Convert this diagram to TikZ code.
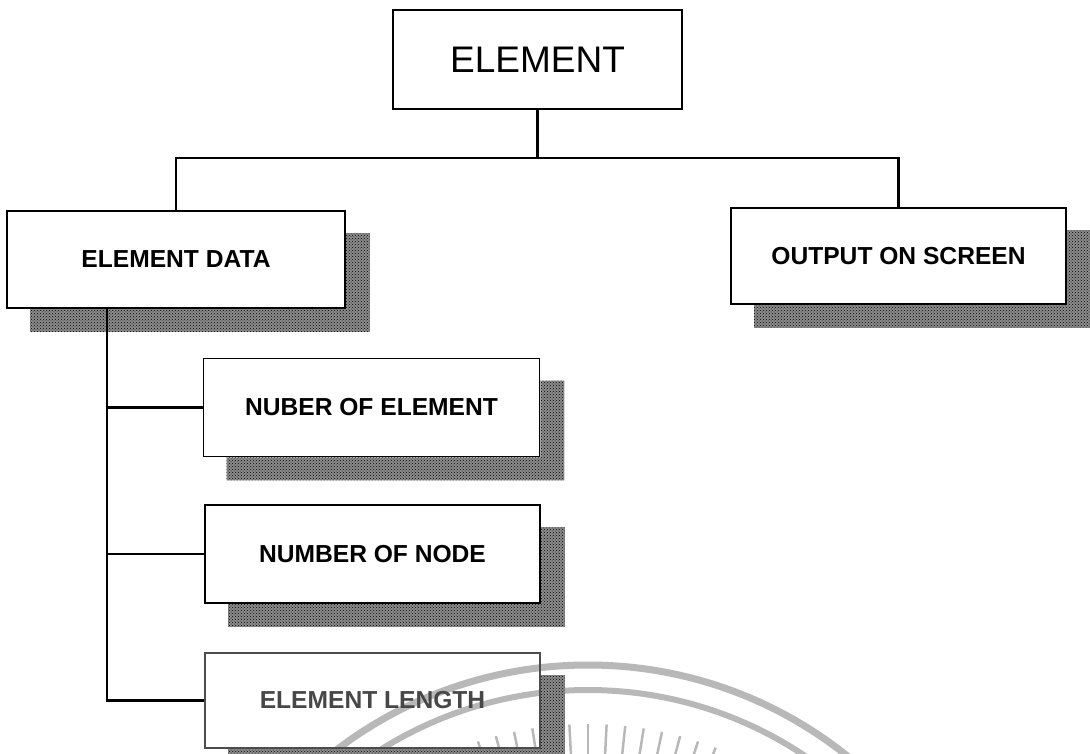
\documentclass[tikz,border=0pt]{standalone}
\usepackage{fontspec}
\setmainfont{Liberation Sans}
\usetikzlibrary{backgrounds,patterns}
\begin{document}
\begin{tikzpicture}[x=1pt,y=-1pt,
  box/.style={draw, line width=1.7pt, inner sep=0pt, font=\bfseries\fontsize{24.6}{28}\selectfont},
  conn/.style={line width=2.2pt},
  shadebox/.style={fill=black!45, postaction={pattern=crosshatch dots, pattern color=black}},
  sealline/.style={draw=black!28, line width=7pt},
  sealray/.style={draw=black!28, line width=2.5pt}]
\useasboundingbox (0,0) rectangle (1090,753);

\node[box, minimum width=289pt, minimum height=99pt, font=\fontsize{37}{40}\selectfont] (top) at (537.5,59.5) {ELEMENT};
\node[box, minimum width=338pt, minimum height=97pt] (ed) at (176,259.5) {ELEMENT DATA};
\node[box, minimum width=335pt, minimum height=96pt] (os) at (898.5,256) {OUTPUT ON SCREEN};
\node[box, minimum width=336pt, minimum height=98pt] (ne) at (371.5,407.5) {NUBER OF ELEMENT};
\node[box, minimum width=335pt, minimum height=98pt] (nn) at (372.5,554) {NUMBER OF NODE};
\node[box, draw=black!70, text=black!72, minimum width=335pt, minimum height=95pt] (el) at (372.5,700.5) {ELEMENT LENGTH};

\begin{scope}[on background layer]
  \begin{scope}
    \clip (0,0) rectangle (1090,753);
    \coordinate (sc) at (588,1080);
    \draw[sealline] (sc) circle[radius=415];
    \draw[sealline, line width=6pt] (sc) circle[radius=390];
    \foreach \a in {66,69,...,114}
      \draw[sealray] ([shift={(sc)}]-\a:300) -- ([shift={(sc)}]-\a:356);
  \end{scope}
  \foreach \n in {ed,os,ne,nn,el}
    \fill[shadebox] ([yshift=-23pt]\n.north east) -- ([shift={(24,23)}]\n.north east)
                    -- ([shift={(24,23)}]\n.south east) -- ([shift={(24,23)}]\n.south west)
                    -- ([xshift=24pt]\n.south west) -- (\n.south east) -- cycle;
\end{scope}

\coordinate (hub) at (top.south |- 0,158);
\draw[conn] (top.south) -- (hub);
\draw[conn] (ed.north) |- (hub) -| (os.north);
\coordinate (tr) at (ed.south -| 107,0);
\draw[conn] (tr) |- (el.west);
\draw[conn] (ne.west) -- (ne.west -| tr);
\draw[conn] (nn.west) -- (nn.west -| tr);
\end{tikzpicture}
\end{document}
